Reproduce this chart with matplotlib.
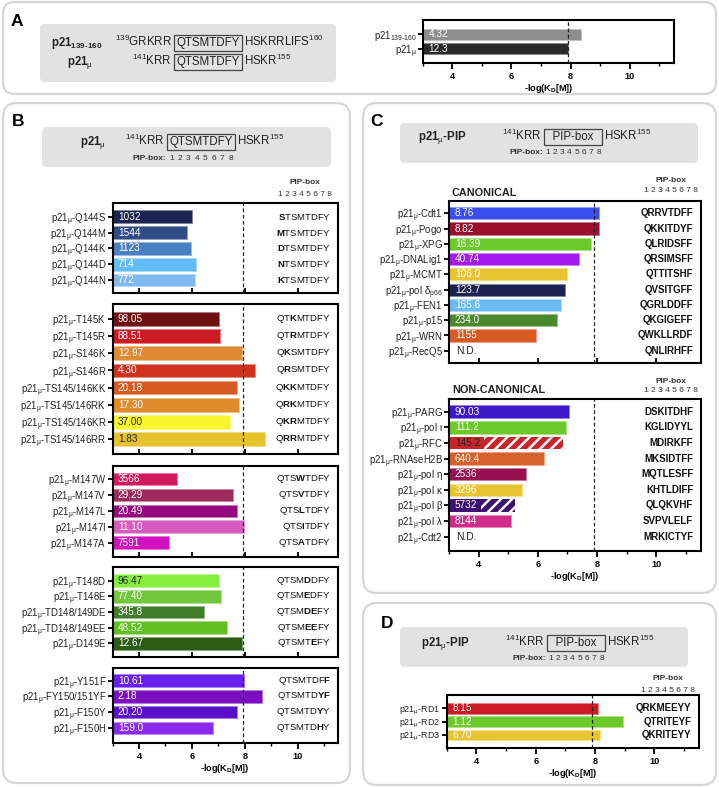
import matplotlib.pyplot as plt
import numpy as np
from matplotlib.patches import FancyBboxPatch
from matplotlib.transforms import IdentityTransform
from matplotlib.ticker import MultipleLocator
from matplotlib.colors import to_rgb

plt.rcParams['font.family'] = ['Liberation Sans', 'DejaVu Sans']
plt.rcParams['mathtext.fontset'] = 'custom'
plt.rcParams['mathtext.rm'] = 'Liberation Sans'
plt.rcParams['mathtext.it'] = 'Liberation Sans:italic'
plt.rcParams['mathtext.bf'] = 'Liberation Sans:bold'
plt.rcParams['hatch.linewidth'] = 1.8

MU = 'p21$_{\\mathrm{μ}}$-'

# ---------------- data (KD in nM, as printed) ----------------
a_names = ['p21$_{139‐160}$', 'p21$_{\\mathrm{μ}}$']
a_kd = ['4.32', '12.3']
a_colors = ['#8e8e8e', '#2a2a2a']

b1_names = ['Q144S', 'Q144M', 'Q144K', 'Q144D', 'Q144N']
b1_kd = ['1032', '1544', '1123', '714', '772']
b1_seq = ['STSMTDFY', 'MTSMTDFY', 'DTSMTDFY', 'NTSMTDFY', 'KTSMTDFY']
b1_bold = [[0], [0], [0], [0], [0]]
b1_colors = ['#1c2552', '#2f4c86', '#4a80c0', '#62bdf6', '#80b8f0']

b2_names = ['T145K', 'T145R', 'S146K', 'S146R', 'TS145/146KK', 'TS145/146RK',
            'TS145/146KR', 'TS145/146RR']
b2_kd = ['98.05', '88.51', '12.97', '4.30', '20.18', '17.30', '37.00', '1.83']
b2_seq = ['QTKMTDFY', 'QTRMTDFY', 'QKSMTDFY', 'QRSMTDFY', 'QKKMTDFY', 'QRKMTDFY',
          'QKRMTDFY', 'QRRMTDFY']
b2_bold = [[2], [2], [1], [1], [1, 2], [1, 2], [1, 2], [1, 2]]
b2_colors = ['#6e0f10', '#cc1b24', '#e08a36', '#d1321f', '#d65a22', '#e08c2a',
             '#f8f52c', '#e6c22c']
b2_dark = [6, 7]

b3_names = ['M147W', 'M147V', 'M147L', 'M147I', 'M147A']
b3_kd = ['3566', '29.29', '20.49', '11.10', '7591']
b3_seq = ['QTSWTDFY', 'QTSVTDFY', 'QTSLTDFY', 'QTSITDFY', 'QTSATDFY']
b3_bold = [[3], [3], [3], [3], [3]]
b3_colors = ['#d3195c', '#9c2a5b', '#95077e', '#d85cc0', '#d30fc0']

b4_names = ['T148D', 'T148E', 'TD148/149DE', 'TD148/149EE', 'D149E']
b4_kd = ['96.47', '77.40', '345.8', '48.52', '12.67']
b4_seq = ['QTSMDDFY', 'QTSMEDFY', 'QTSMDEFY', 'QTSMEEFY', 'QTSMTEFY']
b4_bold = [[4], [4], [4, 5], [4, 5], [5]]
b4_colors = ['#86ef3e', '#72c63a', '#3f7d2b', '#62c024', '#2b5c15']
b4_dark = [0]

b5_names = ['Y151F', 'FY150/151YF', 'F150Y', 'F150H']
b5_kd = ['10.61', '2.18', '20.20', '159.0']
b5_seq = ['QTSMTDFF', 'QTSMTDYF', 'QTSMTDYY', 'QTSMTDHY']
b5_bold = [[7], [6, 7], [6], [6]]
b5_colors = ['#6a1ff2', '#7a10c0', '#5a10c8', '#8a2af0']

c_names = ['Cdt1', 'Pogo', 'XPG', 'DNALig1', 'MCMT', 'pol δ$_{\\mathrm{p66}}$',
           'FEN1', 'p15', 'WRN', 'RecQ5']
c_kd = ['8.76', '8.82', '16.39', '40.74', '106.0', '123.7', '165.6', '234.0',
        '1155', None]
c_seq = ['QRRVTDFF', 'QKKITDYF', 'QLRIDSFF', 'QRSIMSFF', 'QTTITSHF', 'QVSITGFF',
         'QGRLDDFF', 'QKGIGEFF', 'QWKLLRDF', 'QNLIRHFF']
c_colors = ['#3c4ef0', '#9a0f2c', '#6cc92a', '#a419f0', '#e8c431', '#1c2350',
            '#6bbaf2', '#4a8a2c', '#d85a22', '#ffffff']

n_names = ['PARG', 'pol ι', 'RFC', 'RNAseH2B', 'pol η', 'pol κ', 'pol β',
           'pol λ', 'Cdt2']
n_kd = ['90.03', '111.2', '145.2', '640.4', '2536', '3296', '5732', '8144', None]
n_seq = ['DSKITDHF', 'KGLIDYYL', 'MDIRKFF', 'MKSIDTFF', 'MQTLESFF', 'KHTLDIFF',
         'QLQKVHF', 'SVPVLELF', 'MRKICTYF']
n_colors = ['#3c18c8', '#6cc92a', '#c8242a', '#d8602a', '#981050', '#e8c431',
            '#3c1070', '#d02c8c', '#ffffff']
n_hatched = [2, 6]
n_dark = [2]

d_names = ['RD1', 'RD2', 'RD3']
d_kd = ['8.15', '1.12', '6.70']
d_seq = ['QRKMEEYY', 'QTRITEYF', 'QKRITEYY']
d_colors = ['#cc1b24', '#6cc92a', '#e8c431']

ref = 9 - np.log10(float(a_kd[1]))

# ---------------- figure ----------------
W, H, DPI = 719, 787, 100
fig = plt.figure(figsize=(W / DPI, H / DPI), dpi=DPI)
renderer = fig.canvas.get_renderer()


def rbox(l, t, r, b, rad, **kw):
    fig.add_artist(FancyBboxPatch((l, H - b), r - l, b - t,
                                  boxstyle='round,pad=0,rounding_size=%g' % rad,
                                  transform=IdentityTransform(), **kw))


def ftext(x, y, s, **kw):
    return fig.text(x / W, 1 - y / H, s, **kw)


def seq_tex(seq, bold):
    out = ''
    for i, c in enumerate(seq):
        out += ('\\mathbf{%s}' if i in bold else '\\mathrm{%s}') % c
    return '$' + out + '$'


def lighten(c, f=0.45):
    r, g, b = to_rgb(c)
    return (r + (1 - r) * f, g + (1 - g) * f, b + (1 - b) * f)


def boxed_seq(cx, y, pre, mid, post, fs=8.3, pad=0.2):
    t = ftext(cx, y, mid, ha='center', va='baseline', fontsize=fs, color='#222222',
              bbox=dict(boxstyle='square,pad=%g' % pad, fc='none', ec='#444444', lw=0.9))
    ext = t.get_window_extent(renderer)
    p = pad * fs * DPI / 72
    fig.text((ext.x0 - p - 2) / W, 1 - y / H, pre, ha='right', va='baseline',
             fontsize=fs, color='#222222')
    fig.text((ext.x1 + p + 2) / W, 1 - y / H, post, ha='left', va='baseline',
             fontsize=fs, color='#222222')
    return ext.x0 - p, ext.x1 + p


def pip_line(x0, x1, y, fs=6):
    step = (x1 - x0) / 8
    for k in range(8):
        fig.text((x0 + (k + 0.5) * step) / W, 1 - y / H, str(k + 1), ha='center',
                 va='center', fontsize=fs, color='#333333')
    fig.text((x0 - 1) / W, 1 - y / H, 'PIP-box:', ha='right', va='center',
             fontsize=fs, fontweight='bold', color='#333333')


def pip_head(cx, y1, y2):
    ftext(cx, y1, 'PIP-box', ha='center', va='center', fontsize=6, fontweight='bold',
          color='#333333')
    ftext(cx, y2, '1 2 3 4 5 6 7 8', ha='center', va='center', fontsize=6,
          color='#333333')


def bar_axes(box, names, kd, colors, seqs=None, bolds=None, dark=(), hatched=(),
             seq_bold=False, xlabels=False, pads=(0.85, 0.85), yfs=6.9):
    l, t, r, b = box
    ax = fig.add_axes([l / W, 1 - b / H, (r - l) / W, (b - t) / H])
    ax.set_zorder(2)
    n = len(names)
    ax.set_xlim(3, 11.5)
    ax.set_ylim(n - 1 + pads[1], -pads[0])
    for i in range(n):
        if kd[i] is None:
            ax.text(3.25, i, 'N.D.', ha='left', va='center', fontsize=7.4,
                    color='#222222')
        else:
            v = 9 - np.log10(float(kd[i]))
            txt = ax.text(3.2, i, kd[i], ha='left', va='center', fontsize=7.2,
                          color='#222222' if i in dark else 'white', zorder=4)
            if i in hatched:
                ax.barh(i, v - 3, left=3, height=0.8, color=colors[i],
                        edgecolor='white', hatch='///', linewidth=0, zorder=2)
                ext = txt.get_window_extent(renderer)
                xe = ax.transData.inverted().transform((ext.x1 + 4, 0))[0]
                ax.barh(i, xe - 3, left=3, height=0.8, color=colors[i],
                        linewidth=0, zorder=2.5)
            else:
                ax.barh(i, v - 3, left=3, height=0.8, color=colors[i],
                        edgecolor=lighten(colors[i]), linewidth=0.7, zorder=2)
        if seqs is not None:
            s = seqs[i] if seq_bold else seq_tex(seqs[i], bolds[i])
            ax.text(0.97, i, s, transform=ax.get_yaxis_transform(), ha='right',
                    va='center', fontsize=7 if seq_bold else 6.8,
                    fontweight='bold' if seq_bold else 'normal', color='#111111')
    ax.set_yticks(range(n))
    ax.set_yticklabels(names, fontsize=yfs, color='#222222')
    ax.tick_params(axis='y', length=3.5, width=1.3, pad=1)
    ax.xaxis.set_major_locator(MultipleLocator(2))
    ax.axvline(ref, color='#222222', lw=0.9, ls=(0, (3, 2)), zorder=3)
    for sp in ax.spines.values():
        sp.set_linewidth(1.5)
    if xlabels:
        ax.xaxis.set_minor_locator(MultipleLocator(1))
        ax.tick_params(axis='x', which='major', length=4.5, width=1.3, labelsize=6.6,
                       pad=2)
        ax.tick_params(axis='x', which='minor', length=2.5, width=1.0)
        for tl in ax.get_xticklabels():
            tl.set_fontweight('bold')
        ax.set_xlabel('-log(K$_\\mathbf{D}$[M])', fontsize=6.6, fontweight='bold',
                      labelpad=1)
    else:
        ax.tick_params(axis='x', length=3.5, width=1.3, direction='in',
                       labelbottom=False)
    return ax


# ---------------- panel frames ----------------
frame = dict(fc='white', ec='#d6d6d6', lw=1.6, zorder=-2)
rbox(3, 2, 716, 94, 12, **frame)
rbox(3, 103, 350, 783, 14, **frame)
rbox(363, 103, 716, 593, 14, **frame)
rbox(363, 603, 716, 785, 14, **frame)

grey = dict(fc='#e2e2e2', ec='none', zorder=-1)
rbox(40, 24, 336, 82, 5, **grey)
rbox(42, 127, 331, 167, 5, **grey)
rbox(400, 123, 698, 163, 5, **grey)
rbox(400, 627, 688, 667, 5, **grey)

for lab, x, y in [('A', 17, 21), ('B', 18, 121), ('C', 377, 121), ('D', 387, 623)]:
    ftext(x, y, lab, ha='center', va='center', fontsize=12.5, fontweight='bold')

# ---------------- panel A ----------------
ftext(77, 46, 'p21$_{\\mathbf{139‐160}}$', ha='center', va='baseline', fontsize=8.3,
      fontweight='bold', color='#222222')
ftext(80, 65, 'p21$_{\\mathrm{μ}}$', ha='center', va='baseline', fontsize=8.3,
      fontweight='bold', color='#222222')
boxed_seq(208, 46, '$^{139}$GRKRR', 'QTSMTDFY', 'HSKRRLIFS$^{160}$')
boxed_seq(208, 65, '$^{141}$KRR', 'QTSMTDFY', 'HSKR$^{155}$')

bar_axes((422.7, 20, 674, 63), a_names, a_kd, a_colors, xlabels=True, pads=(1.0, 1.0))

# ---------------- panel B ----------------
ftext(93, 145, 'p21$_{\\mathrm{μ}}$', ha='center', va='baseline', fontsize=8.3,
      fontweight='bold', color='#222222')
x0, x1 = boxed_seq(201, 145, '$^{141}$KRR', 'QTSMTDFY', 'HSKR$^{155}$')
pip_line(x0, x1, 158)
pip_head(305, 183, 194)

BL, BR = 112.5, 337.7
bar_axes((BL, 203, BR, 293), [MU + s for s in b1_names], b1_kd, b1_colors,
         b1_seq, b1_bold, pads=(0.87, 0.82))
bar_axes((BL, 304, BR, 454), [MU + s for s in b2_names], b2_kd, b2_colors,
         b2_seq, b2_bold, dark=b2_dark, pads=(0.88, 0.88))
bar_axes((BL, 466, BR, 557), [MU + s for s in b3_names], b3_kd, b3_colors,
         b3_seq, b3_bold, pads=(0.82, 0.9))
bar_axes((BL, 567, BR, 657), [MU + s for s in b4_names], b4_kd, b4_colors,
         b4_seq, b4_bold, dark=b4_dark, pads=(0.87, 0.87))
bar_axes((BL, 668, BR, 743), [MU + s for s in b5_names], b5_kd, b5_colors,
         b5_seq, b5_bold, xlabels=True, pads=(0.81, 0.97))

# ---------------- panel C ----------------
ftext(442, 140, 'p21$_{\\mathrm{μ}}$-PIP', ha='center', va='baseline', fontsize=8.3,
      fontweight='bold', color='#222222')
x0, x1 = boxed_seq(573, 140, '$^{141}$KRR', '  PIP-box  ', 'HSKR$^{155}$')
pip_line(x0, x1, 153)
ftext(452, 196, 'CANONICAL', ha='left', va='baseline', fontsize=7.8,
      fontweight='bold', color='#222222')
pip_head(670.7, 181, 191)
bar_axes((449, 201, 700.7, 363), [MU + s for s in c_names], c_kd, c_colors,
         c_seq, seq_bold=True, pads=(0.8, 0.8))

ftext(452, 393, 'NON-CANONICAL', ha='left', va='baseline', fontsize=7.8,
      fontweight='bold', color='#222222')
pip_head(670.7, 381, 391)
bar_axes((449, 399, 700.7, 551), [MU + s for s in n_names], n_kd, n_colors,
         n_seq, seq_bold=True, dark=n_dark, hatched=n_hatched, xlabels=True,
         pads=(0.81, 0.92))

# ---------------- panel D ----------------
ftext(445, 646, 'p21$_{\\mathrm{μ}}$-PIP', ha='center', va='baseline', fontsize=8.3,
      fontweight='bold', color='#222222')
x0, x1 = boxed_seq(576, 646, '$^{141}$KRR', '  PIP-box  ', 'HSKR$^{155}$')
pip_line(x0, x1, 659)
pip_head(668, 679, 690)
bar_axes((446.7, 695, 699, 748), [MU + s for s in d_names], d_kd, d_colors,
         d_seq, seq_bold=True, xlabels=True, pads=(1.0, 0.98), yfs=6.4)

fig.savefig('out.png', dpi=DPI)
